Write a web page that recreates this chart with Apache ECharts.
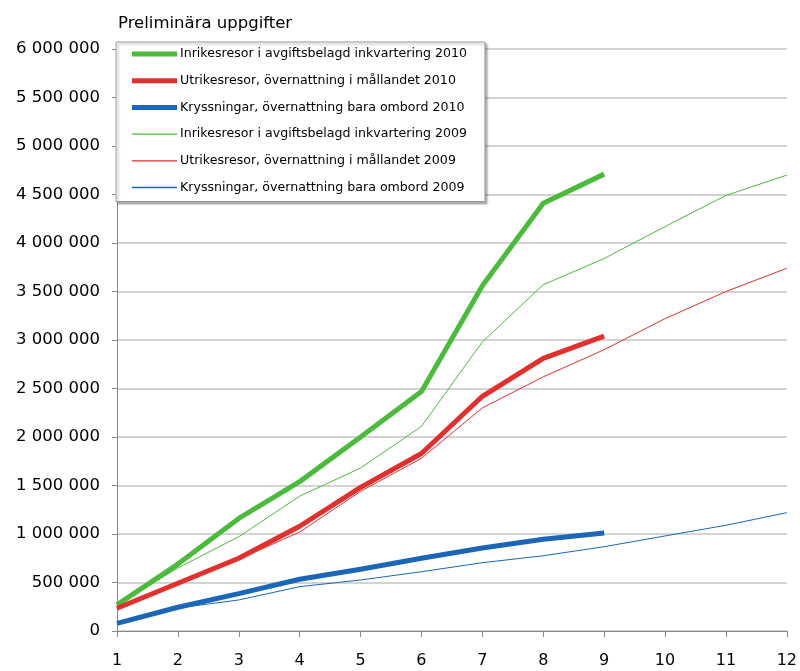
<!DOCTYPE html>
<html><head><meta charset="utf-8">
<script src="https://cdn.jsdelivr.net/npm/echarts@6/dist/echarts.min.js"></script>
<style>html,body{margin:0;padding:0;background:#fff}#c{width:800px;height:671px}</style>
</head><body><div id="c"></div>
<script>
const categories = ['1','2','3','4','5','6','7','8','9','10','11','12'];
const yTicks = [0,500000,1000000,1500000,2000000,2500000,3000000,3500000,4000000,4500000,5000000,5500000,6000000];
const names = [
  'Inrikesresor i avgiftsbelagd inkvartering 2010',
  'Utrikesresor, övernattning i mållandet 2010',
  'Kryssningar, övernattning bara ombord 2010',
  'Inrikesresor i avgiftsbelagd inkvartering 2009',
  'Utrikesresor, övernattning i mållandet 2009',
  'Kryssningar, övernattning bara ombord 2009'
];
const inrikes2010 = [270000, 690000, 1160000, 1540000, 2000000, 2470000, 3560000, 4410000, 4710000];
const utrikes2010 = [234000, 492000, 750000, 1080000, 1480000, 1830000, 2420000, 2810000, 3040000];
const kryss2010   = [79000, 245000, 385000, 533000, 636000, 750000, 855000, 945000, 1010000];
const inrikes2009 = [270000, 650000, 972000, 1390000, 1680000, 2110000, 2980000, 3570000, 3840000, 4170000, 4490000, 4700000];
const utrikes2009 = [234000, 488000, 740000, 1020000, 1440000, 1780000, 2300000, 2620000, 2900000, 3220000, 3500000, 3740000];
const kryss2009   = [79000, 237000, 320000, 457000, 526000, 611000, 704000, 776000, 869000, 980000, 1090000, 1220000];

const cGreen = '#4cba3c', cRed = '#e0312f', cBlue = '#1c66b8';
const datasets = [inrikes2010, utrikes2010, kryss2010, inrikes2009, utrikes2009, kryss2009];
const colors = [cGreen, cRed, cBlue, cGreen, cRed, cBlue];
const widths = [5, 5, 5, 1, 1, 1];
const FONT = 'DejaVu Sans, Verdana, sans-serif';

function fmt(v){ return String(v).replace(/\B(?=(\d{3})+(?!\d))/g, ' '); }

const chart = echarts.init(document.getElementById('c'), null, {renderer:'canvas'});
chart.setOption({
  animation: false,
  backgroundColor: '#fff',
  textStyle: { fontFamily: FONT },
  title: {
    text: 'Preliminära uppgifter',
    left: 113, top: 10,
    textStyle: { fontSize: 16.5, fontWeight: 'normal', color: '#000', fontFamily: FONT }
  },
  legend: {
    orient: 'vertical',
    left: 116, top: 42,
    padding: [5, 18, 7, 16],
    itemGap: 12.7,
    itemWidth: 45, itemHeight: 14,
    backgroundColor: '#fff',
    borderColor: '#999', borderWidth: 1,
    shadowColor: 'rgba(0,0,0,0.3)', shadowBlur: 2, shadowOffsetX: 2, shadowOffsetY: 2,
    textStyle: { fontSize: 12.6, lineHeight: 14, color: '#000', padding: [0,0,0,-2], fontFamily: FONT },
    data: names.map((n, i) => ({
      name: n,
      icon: i < 3 ? 'path://M0,0 L45,0 L45,5 L0,5 Z' : 'path://M0,0 L45,0 L45,1.3 L0,1.3 Z',
      itemStyle: { color: colors[i] }
    }))
  },
  grid: { left: 117, right: 11, top: 49, bottom: 40, containLabel: false },
  xAxis: {
    type: 'category',
    data: categories,
    boundaryGap: false,
    axisLine: { lineStyle: { color: '#888', width: 1 } },
    axisTick: { show: true, length: 6, inside: false, lineStyle: { color: '#888' } },
    axisLabel: { color: '#000', fontSize: 16, margin: 22, interval: 0, fontFamily: FONT },
    splitLine: { show: false }
  },
  yAxis: {
    type: 'value',
    min: 0, max: 6000000, interval: 500000,
    axisLine: { show: true, lineStyle: { color: '#888', width: 1 } },
    axisTick: { show: true, length: 5, lineStyle: { color: '#888' } },
    axisLabel: { color: '#000', fontSize: 16.5, margin: 17, formatter: v => fmt(v), fontFamily: FONT },
    splitLine: { show: true, lineStyle: { color: '#c4c4c4', width: 1.5 } }
  },
  series: names.map((n, i) => ({
    name: n,
    type: 'line',
    data: datasets[i],
    showSymbol: false,
    symbol: 'none',
    z: i < 3 ? 3 : 4,
    lineStyle: { color: colors[i], width: widths[i] },
    itemStyle: { color: colors[i] }
  }))
});
</script>
</body></html>
